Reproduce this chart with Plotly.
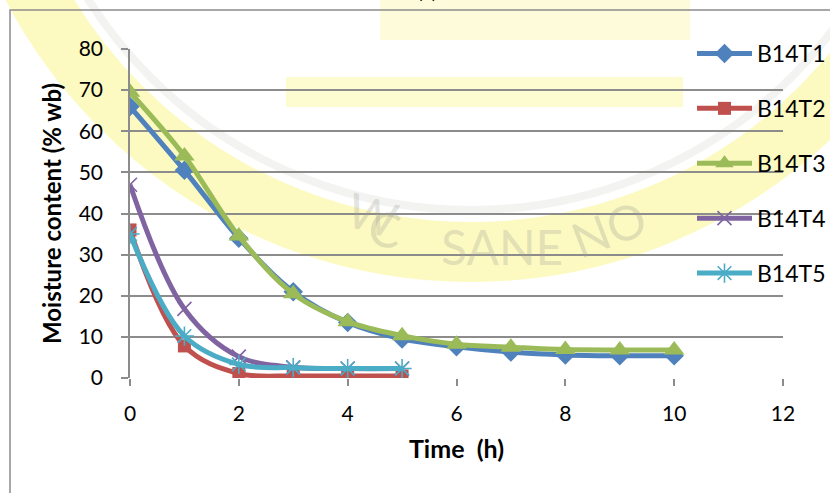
import plotly.graph_objects as go

# Drying curves: moisture content (% wet basis) against drying time
time_long = [0, 1, 2, 3, 4, 5, 6, 7, 8, 9, 10]
time_short = [0, 1, 2, 3, 4, 5]

b14t1 = [66, 50.5, 34, 21, 13.5, 9.5, 7.6, 6.3, 5.6, 5.4, 5.4]
b14t2 = [36, 7.8, 1.1, 0.5, 0.5, 0.5]
b14t3 = [69.5, 54, 34.5, 20.5, 13.7, 10.3, 8.2, 7.5, 6.9, 6.8, 6.8]
b14t4 = [47, 16.8, 5.2, 2.6, 2.3, 2.3]
b14t5 = [35, 10.2, 3.3, 2.5, 2.3, 2.3]

x_ticks = [0, 2, 4, 6, 8, 10, 12]
y_ticks = [0, 10, 20, 30, 40, 50, 60, 70, 80]

# plot-area geometry in page pixels
L, R, T, B = 130, 783, 49, 378
W, H = R - L, B - T


def px(x):
    return (x - L) / W


def py(y):
    return (B - y) / H


FONT = "Lato, 'Open Sans', sans-serif"
GRID = "#8c8c8c"

series = [
    ("B14T1", time_long, b14t1, "#4F81BD", "diamond", 15, 0),
    ("B14T2", time_short, b14t2, "#C0504D", "square", 13, 0),
    ("B14T3", time_long, b14t3, "#9BBB59", "triangle-up", 18, 0),
    ("B14T4", time_short, b14t4, "#8064A2", "x-thin", 14, 1.6),
    ("B14T5", time_short, b14t5, "#4BACC6", "asterisk", 16, 1.6),
]

fig = go.Figure()
for name, xs, ys, color, symbol, size, lw in series:
    marker = dict(symbol=symbol, size=size, color=color)
    if lw:
        marker["line"] = dict(width=lw, color=color)
    else:
        marker["line"] = dict(width=0)
    fig.add_trace(go.Scatter(
        x=xs, y=ys, name=name, legendgroup=name,
        mode="lines+markers",
        line=dict(color=color, width=5, shape="spline", smoothing=1),
        marker=marker,
    ))

shapes = []
annotations = []

# faint crest watermark behind the chart
cx, cy, rr = 471, -243, 495
shapes.append(dict(
    type="circle", xref="paper", yref="paper", layer="below",
    x0=px(cx - rr), x1=px(cx + rr), y0=py(cy + rr), y1=py(cy - rr),
    line=dict(color="rgba(250,246,150,0.6)", width=60),
))
ri = rr - 42
shapes.append(dict(
    type="circle", xref="paper", yref="paper", layer="below",
    x0=px(cx - ri), x1=px(cx + ri), y0=py(cy + ri), y1=py(cy - ri),
    line=dict(color="rgba(200,200,195,0.22)", width=8),
))
shapes.append(dict(
    type="rect", xref="paper", yref="paper", layer="below",
    x0=px(286), x1=px(683), y0=py(107), y1=py(77),
    fillcolor="rgba(250,246,150,0.45)", line=dict(width=0),
))
shapes.append(dict(
    type="rect", xref="paper", yref="paper", layer="below",
    x0=px(380), x1=px(690), y0=py(40), y1=py(0),
    fillcolor="rgba(250,246,160,0.4)", line=dict(width=0),
))
for txt, x, y, ang in [("SANE", 502, 247, 0), ("NO", 656, 228, -21),
                       ("W", 339, 214, 16), ("C", 385, 228, 8)]:
    annotations.append(dict(
        text=txt, xref="paper", yref="paper", x=px(x), y=py(y),
        showarrow=False, textangle=ang,
        font=dict(family=FONT, size=48, color="rgba(160,160,150,0.3)"),
    ))

# chart-area frame
shapes.append(dict(
    type="rect", xref="paper", yref="paper", layer="below",
    x0=px(10), x1=px(900), y0=py(560), y1=py(10),
    line=dict(color="#8c8c8c", width=1.5), fillcolor="rgba(0,0,0,0)",
))

# partly visible panel label above the frame
annotations.append(dict(
    text="(c)", xref="paper", yref="paper", x=px(427), y=py(4),
    yanchor="bottom", showarrow=False,
    font=dict(family=FONT, size=21, color="black"),
))

fig.update_layout(
    width=830, height=493,
    margin=dict(l=L, r=830 - R, t=T, b=493 - B, autoexpand=False),
    paper_bgcolor="white", plot_bgcolor="rgba(0,0,0,0)",
    font=dict(family=FONT, size=21, color="black"),
    shapes=shapes, annotations=annotations,
    legend=dict(
        x=px(692), y=py(32), xanchor="left", yanchor="top",
        bgcolor="rgba(0,0,0,0)", tracegroupgap=22, itemwidth=55,
        maxheight=460,
        font=dict(family=FONT, size=23, color="black"),
    ),
    xaxis=dict(
        range=[0, 12], tickvals=x_ticks, showgrid=False, zeroline=False,
        showline=False, ticks="outside", ticklen=7, tickcolor=GRID,
        tickwidth=1.5, ticklabelstandoff=10,
        title=dict(text="<b>Time\u00a0\u00a0(h)</b>", standoff=16,
                   font=dict(family=FONT, size=25)),
    ),
    yaxis=dict(
        range=[0, 80], tickvals=y_ticks, showgrid=True, gridcolor=GRID,
        gridwidth=1.5, zeroline=False, showline=True, linecolor=GRID,
        linewidth=1.5, ticks="outside", ticklen=7, tickcolor=GRID,
        tickwidth=1.5, ticklabelstandoff=14,
        title=dict(text="<b>Moisture content (% wb)</b>", standoff=10,
                   font=dict(family=FONT, size=24)),
    ),
)

fig.write_html("out.html")
